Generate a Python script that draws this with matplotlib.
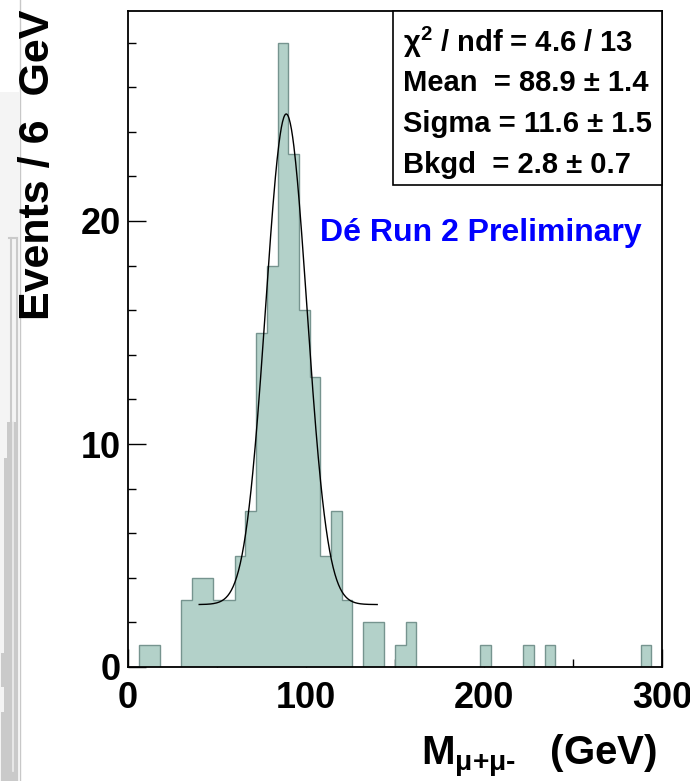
import matplotlib
matplotlib.use("Agg")
import matplotlib.pyplot as plt
import numpy as np
from matplotlib.patches import Rectangle

# --- datos: histograma de M(mu+mu-) en bins de 6 GeV, 0-300 GeV ---
bin_edges = np.arange(0, 301, 6)
counts = [0, 1, 1, 0, 0, 3, 4, 4, 3, 3,
          5, 7, 15, 18, 28, 23, 16, 13, 5, 7,
          3, 0, 2, 2, 0, 1, 2, 0, 0, 0,
          0, 0, 0, 1, 0, 0, 0, 1, 0, 1,
          0, 0, 0, 0, 0, 0, 0, 0, 1, 0]

# parametros del ajuste (gauss + fondo constante)
fit_mean = 88.9
fit_sigma = 11.6
fit_bkgd = 2.8
fit_amp = 22.0
fit_lo, fit_hi = 40.0, 140.0

stats_lines = [
    r"$\chi^{2}$ / ndf = 4.6 / 13",
    "Mean  = 88.9 \u00b1 1.4",
    "Sigma = 11.6 \u00b1 1.5",
    "Bkgd  = 2.8 \u00b1 0.7",
]
x_ticks = [0, 100, 200, 300]
x_minor = [50, 150, 250]
y_ticks = [0, 10, 20]
y_minor = list(range(0, 30, 2))

# sombra gris del borde izquierdo (resto de otra figura), en pixeles
ghost_y = [422, 458, 653, 687, 712, 781]
ghost_left = [7, 4, 1, 4, 1]

plt.rcParams["font.family"] = ["Liberation Sans", "DejaVu Sans"]
plt.rcParams["font.weight"] = "bold"
plt.rcParams["mathtext.fontset"] = "custom"
plt.rcParams["mathtext.rm"] = "Liberation Sans:bold"
plt.rcParams["mathtext.it"] = "Liberation Sans:bold"
plt.rcParams["mathtext.bf"] = "Liberation Sans:bold"
plt.rcParams["mathtext.default"] = "regular"

W, H = 690, 781
fig = plt.figure(figsize=(W / 100, H / 100), dpi=100)

# fondo en coordenadas de pixel para la sombra
bg = fig.add_axes([0, 0, 1, 1], zorder=-5)
bg.set_xlim(0, W)
bg.set_ylim(H, 0)
bg.axis("off")
bg.add_patch(Rectangle((0, 92), 19, H - 92, color="#f4f4f4", lw=0))
for i, xl in enumerate(ghost_left):
    bg.fill_betweenx([ghost_y[i], ghost_y[i + 1]], xl, 17,
                     color="#cacaca", lw=0)
bg.plot([11, 11], [238, ghost_y[0]], color="#cacaca", lw=1.5)
bg.plot([17, 17], [238, H], color="#cacaca", lw=1.5)
bg.plot([9, 17], [238, 238], color="#cacaca", lw=1.5)
bg.plot([13, 13], [ghost_y[0], H - 10], color="#eeeeee", lw=1.2)
bg.plot([19.5, 19.5], [0, H], color="#c8c8c8", lw=1)

# ejes principales
x0, x1, y0, y1 = 128, 662, 11, 667
ax = fig.add_axes([x0 / W, 1 - y1 / H, (x1 - x0) / W, (y1 - y0) / H])

ax.stairs(counts, bin_edges, fill=True, facecolor="#b3d1c9",
          edgecolor="#76948f", linewidth=1.0, zorder=2)

xf = np.linspace(fit_lo, fit_hi, 300)
yf = fit_bkgd + fit_amp * np.exp(-0.5 * ((xf - fit_mean) / fit_sigma) ** 2)
ax.plot(xf, yf, color="black", lw=1.0, zorder=3)

ax.set_xlim(0, 300)
ax.set_ylim(0, (y1 - y0) / 22.3)
ax.set_xticks(x_ticks)
ax.set_xticks(x_minor, minor=True)
ax.set_yticks(y_ticks)
ax.set_yticks(y_minor, minor=True)
ax.tick_params(which="major", direction="in", length=13, width=1.0,
               labelsize=26, top=False, right=False)
ax.tick_params(which="minor", direction="in", length=6, width=1.0,
               top=False, right=False)
ax.tick_params(axis="x", pad=10)
ax.tick_params(axis="y", pad=5)
for s in ax.spines.values():
    s.set_linewidth(1.3)
    s.set_zorder(4)

# caja de estadisticas
def ax_y(py):
    return (y1 - py) / (y1 - y0)

bx0 = (393 - x0) / (x1 - x0)
by0 = ax_y(185)
ax.add_patch(Rectangle((bx0, by0), 1 - bx0, 1 - by0, transform=ax.transAxes,
                       facecolor="white", edgecolor="black", lw=1.2,
                       zorder=5, clip_on=False))
for py, txt in zip([42, 83, 124, 165], stats_lines):
    ax.text((403 - x0) / (x1 - x0), ax_y(py), txt, transform=ax.transAxes,
            ha="left", va="center", fontsize=21, zorder=6)

ax.text((320 - x0) / (x1 - x0), ax_y(233), "D\u00e9 Run 2 Preliminary",
        transform=ax.transAxes, ha="left", va="center", fontsize=23,
        color="#0000ff", zorder=6)

fig.text(38 / W, 1 - 165 / H, "Events / 6  GeV", rotation=90,
         ha="center", va="center", fontsize=31)
fig.text(421 / W, 1 - 765 / H, r"M$_{\mu{+}\mu\text{-}}$   (GeV)",
         ha="left", va="baseline", fontsize=29)

fig.savefig("out.png", dpi=100)
